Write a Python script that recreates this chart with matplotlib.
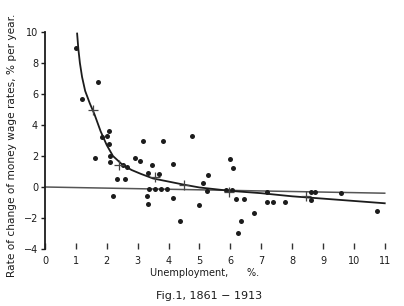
import numpy as np
import matplotlib
matplotlib.use("Agg")
import matplotlib.pyplot as plt

unemp = [1.0, 1.2, 1.72, 1.62, 1.84, 2.0, 2.07, 2.07, 2.1, 2.1, 2.2, 2.33, 2.52, 2.65,
         2.6, 2.9, 3.07, 3.17, 3.3, 3.35, 3.35, 3.45, 3.37, 3.56, 3.7, 3.75, 3.82, 3.95,
         4.15, 4.15, 4.37, 4.75, 5.0, 5.1, 5.25, 5.27, 5.85, 6.05, 6.0, 6.1, 6.2, 6.45,
         6.25, 6.35, 6.76, 7.2, 7.18, 7.37, 7.77, 8.6, 8.75, 8.6, 9.58, 10.74]
wage_change = [9.0, 5.7, 6.8, 1.9, 3.2, 3.3, 3.6, 2.8, 2.0, 1.6, -0.6, 0.5, 1.4, 1.3,
               0.5, 1.9, 1.7, 3.0, -0.6, -1.1, 0.9, 1.4, -0.1, -0.1, 0.85, -0.1, 3.0, -0.1,
               1.5, -0.7, -2.2, 3.3, -1.15, 0.25, -0.25, 0.75, -0.2, -0.2, 1.8, 1.2, -0.8, -0.8,
               -2.95, -2.2, -1.7, -0.3, -0.95, -0.95, -0.95, -0.3, -0.3, -0.85, -0.4, -1.55]

# group averages (crosses)
cross_x = [1.55, 2.4, 3.55, 4.5, 5.95, 8.45]
cross_y = [5.0, 1.45, 0.65, 0.15, -0.3, -0.6]

# fitted curve, points
curve_x = [1.04, 1.08, 1.13, 1.2, 1.3, 1.45, 1.6, 1.8, 2.0, 2.2, 2.5, 2.8, 3.1, 3.5, 4.0,
           4.5, 5.0, 5.5, 6.0, 7.0, 8.0, 9.0, 10.0, 11.0]
curve_y = [9.9, 8.9, 8.0, 7.1, 6.2, 5.4, 4.7, 3.6, 2.7, 2.0, 1.45, 1.1, 0.85, 0.55, 0.35,
           0.15, -0.03, -0.14, -0.25, -0.4, -0.6, -0.75, -0.9, -1.05]

# straight line
line_x = [0, 11.0]
line_y = [0.0, -0.4]

xticks = list(range(0, 12))
yticks = list(range(-4, 11, 2))

ink = "#1c1c1c"

fig = plt.figure(figsize=(4.04, 3.06), dpi=100)
ax = fig.add_axes([45 / 404, 57 / 306, 349 / 404, 217 / 306])

ax.plot(line_x, line_y, color="#555555", lw=1.1, clip_on=False)
ax.plot(curve_x, curve_y, color=ink, lw=1.3, clip_on=False)
ax.plot(unemp, wage_change, "o", color=ink, ms=3.6, mec="none", clip_on=False)
ax.plot(cross_x, cross_y, "+", color="#444444", ms=7, mew=0.9, clip_on=False)

ax.set_xlim(0, 11.3)
ax.set_ylim(-4, 10)

for side in ["top", "right", "bottom"]:
    ax.spines[side].set_visible(False)
ax.spines["left"].set_color(ink)
ax.spines["left"].set_linewidth(1.3)

ax.set_xticks(xticks)
ax.set_xticklabels([str(t) for t in xticks])
ax.set_yticks(yticks)
ax.set_yticklabels([("\u2212" + str(-t)) if t < 0 else str(t) for t in yticks])
ax.tick_params(axis="x", direction="in", length=4, width=1, color="#333333",
               labelsize=7, pad=5, labelcolor=ink)
ax.tick_params(axis="y", direction="out", length=3, width=1, color=ink,
               labelsize=7, pad=2, labelcolor=ink)

fig.text(12 / 404, 1 - 145 / 306, "Rate of change of money wage rates, % per year.",
         rotation=90, ha="center", va="center", fontsize=7.6, color=ink)
fig.text(205 / 404, 1 - 273 / 306, "Unemployment,      %.",
         ha="center", va="center", fontsize=7, color=ink)
fig.text(209 / 404, 1 - 296 / 306, "Fig.1, 1861 \u2212 1913",
         ha="center", va="center", fontsize=8, color=ink)

fig.savefig("out.png", dpi=100)
